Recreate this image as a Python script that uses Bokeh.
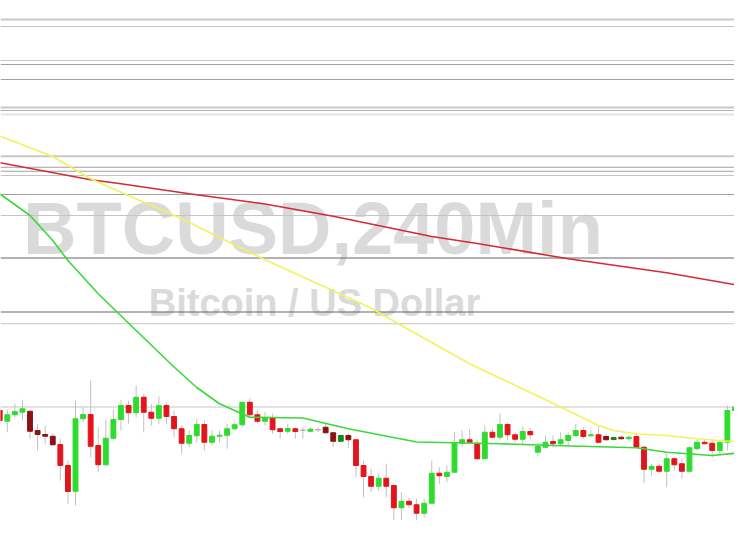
from bokeh.plotting import figure
from bokeh.models import Range1d, Span, Label, ColumnDataSource
from bokeh.embed import file_html
from bokeh.resources import INLINE

# ---------------- data ----------------
opens = [8360, 8317, 8343, 8353, 8357, 8280, 8264, 8257, 8224, 8140,
         8037, 8327, 8344, 8220, 8143, 8249, 8324, 8380, 8351, 8413,
         8353, 8329, 8380, 8336, 8287, 8229, 8259, 8304, 8233, 8257,
         8261, 8287, 8303, 8393, 8343, 8317, 8331, 8287, 8277, 8287,
         8281, 8277, 8283, 8293, 8271, 8237, 8260, 8243, 8140, 8096,
         8057, 8089, 8060, 7971, 7997, 7983, 7949, 7989, 8109, 8096,
         8113, 8229, 8243, 8229, 8167, 8273, 8253, 8304, 8263, 8245,
         8276, 8193, 8213, 8236, 8227, 8240, 8260, 8280, 8259, 8263,
         8256, 8244, 8253, 8247, 8256, 8213, 8125, 8137, 8117, 8167,
         8147, 8117, 8207, 8233, 8229, 8200, 8233, 8360, 8373, 8376]
closes = [8320, 8343, 8356, 8367, 8277, 8264, 8257, 8223, 8140, 8036,
          8327, 8344, 8217, 8143, 8249, 8324, 8380, 8351, 8413, 8353,
          8329, 8380, 8336, 8287, 8229, 8260, 8304, 8233, 8257, 8261,
          8287, 8303, 8393, 8343, 8317, 8331, 8283, 8276, 8288, 8276,
          8281, 8285, 8283, 8271, 8237, 8260, 8243, 8140, 8096, 8057,
          8089, 8057, 7971, 7997, 7983, 7949, 7989, 8109, 8099, 8113,
          8229, 8243, 8233, 8167, 8273, 8253, 8304, 8263, 8245, 8276,
          8263, 8216, 8233, 8227, 8243, 8260, 8280, 8256, 8263, 8233,
          8243, 8252, 8247, 8253, 8213, 8125, 8137, 8117, 8167, 8143,
          8117, 8211, 8233, 8227, 8200, 8233, 8360, 8373, 8379, 8336]
highs = [8380, 8363, 8387, 8403, 8360, 8307, 8300, 8268, 8247, 8160,
         8400, 8373, 8480, 8293, 8323, 8363, 8403, 8400, 8460, 8427,
         8387, 8416, 8393, 8360, 8300, 8280, 8327, 8320, 8280, 8280,
         8307, 8313, 8393, 8408, 8360, 8353, 8347, 8293, 8307, 8293,
         8293, 8293, 8293, 8309, 8273, 8264, 8267, 8243, 8160, 8127,
         8107, 8147, 8060, 8033, 8011, 8007, 8007, 8160, 8133, 8140,
         8273, 8280, 8287, 8240, 8300, 8287, 8347, 8313, 8273, 8296,
         8291, 8233, 8260, 8260, 8273, 8273, 8307, 8293, 8280, 8296,
         8267, 8256, 8260, 8260, 8267, 8220, 8147, 8147, 8187, 8173,
         8167, 8216, 8247, 8247, 8240, 8240, 8380, 8443, 8380, 8384]
lows = [8300, 8273, 8333, 8320, 8247, 8200, 8227, 8220, 8080, 7987,
        7980, 8313, 8173, 8113, 8140, 8240, 8280, 8307, 8333, 8273,
        8300, 8307, 8307, 8253, 8187, 8213, 8233, 8200, 8220, 8233,
        8207, 8283, 8293, 8336, 8307, 8300, 8267, 8247, 8267, 8247,
        8247, 8273, 8273, 8267, 8216, 8233, 8211, 8093, 8013, 8033,
        8037, 8013, 7907, 7856, 7971, 7907, 7933, 7989, 8067, 8073,
        8113, 8213, 8229, 8163, 8167, 8253, 8240, 8240, 8233, 8224,
        8247, 8176, 8208, 8213, 8220, 8220, 8253, 8247, 8253, 8227,
        8240, 8240, 8244, 8240, 8213, 8069, 8100, 8107, 8053, 8120,
        8087, 8117, 8200, 8224, 8173, 8187, 8200, 8353, 8371, 8328]
dark_candles = [4, 5, 6, 7, 43, 44, 45, 46, 80, 81, 82]

ma_red_x = [0, 12, 16, 25, 35, 44, 57, 63, 75, 88, 99]
ma_red = [9351, 9283, 9267, 9227, 9186, 9137, 9056, 9028, 8967, 8911, 8853]

ma_yellow_x = [0, 7, 12, 16, 24, 35, 49, 53, 62, 74, 79, 81, 84, 88, 92, 96, 99]
ma_yellow = [9458, 9376, 9287, 9233, 9127, 8963, 8770, 8700, 8547, 8374, 8300, 8280,
             8266, 8260, 8247, 8237, 8237]

ma_green_x = [0, 4, 7, 9, 13, 18, 23, 26, 29, 31, 33, 40, 46, 55, 66, 73, 84, 88, 94, 97, 99]
ma_green = [9227, 9140, 9040, 8960, 8827, 8680, 8534, 8452, 8387, 8360, 8333, 8330, 8287,
            8234, 8227, 8220, 8211, 8193, 8180, 8189, 8203]

levels = [9924, 9896, 9760, 9744, 9684, 9572, 9560, 9544, 9377, 9333, 9317, 9300,
          9224, 9140, 8970, 8754, 8707, 8374]

title_text = "BTCUSD,240Min"
subtitle_text = "Bitcoin / US Dollar"

# ---------------- styles ----------------
level_styles = ["light2", "light", "light", "mid", "mid", "light2", "mid2", "pale",
                "light2", "mid", "mid", "light", "mid", "light", "dark", "dark", "light", "light"]
style_map = {
    "light2": ("#c8c8c8", 2),
    "light": ("#c4c4c4", 1),
    "pale": ("#e4e4e4", 2),
    "mid": ("#a0a0a0", 1),
    "mid2": ("#b0b0b0", 1),
    "dark": ("#666666", 1.2),
}

GREEN, RED = "#2edc2e", "#e2151c"
DGREEN, DRED = "#128c12", "#8e1111"

idx = list(range(len(opens)))
body_col, tops, bottoms = [], [], []
for i, (o, c) in enumerate(zip(opens, closes)):
    up = c >= o
    if i in dark_candles:
        col = DGREEN if up else DRED
    else:
        col = GREEN if up else RED
    if o == c:
        col = "#aaaaaa"
    body_col.append(col)
    tops.append(max(o, c))
    bottoms.append(min(o, c))

src = ColumnDataSource(dict(x=idx, o=opens, c=closes, h=highs, l=lows,
                            top=tops, bottom=bottoms, col=body_col))

p = figure(width=734, height=520, output_backend="svg", toolbar_location=None,
           x_axis_location=None, y_axis_location=None,
           x_range=Range1d(0.1055, 96.94), y_range=Range1d(7920, 10000),
           min_border=0, background_fill_color="white")
p.xgrid.visible = False
p.ygrid.visible = False
p.outline_line_color = None

p.add_layout(Label(x=41.33, y=9090, text=title_text, text_align="center",
                   text_baseline="middle", text_font="Liberation Sans",
                   text_font_style="bold", text_font_size="74px",
                   text_color="#dadada", level="underlay"))
p.add_layout(Label(x=41.53, y=8790, text=subtitle_text, text_align="center",
                   text_baseline="middle", text_font="Liberation Sans",
                   text_font_style="bold", text_font_size="38px",
                   text_color="#dadada", level="underlay"))

for lv, st in zip(levels, level_styles):
    colr, w = style_map[st]
    p.add_layout(Span(location=lv, dimension="width", line_color=colr,
                      line_width=w, level="underlay"))

p.segment(x0="x", y0="l", x1="x", y1="h", source=src, line_color="#c0c0c0", line_width=1)
p.vbar(x="x", width=0.64, top="top", bottom="bottom", source=src,
       fill_color="col", line_color="col", line_width=1)

p.line(ma_red_x, ma_red, line_color="#d42a33", line_width=1.6)
p.line(ma_yellow_x, ma_yellow, line_color="#f2f25a", line_width=1.6)
p.line(ma_green_x, ma_green, line_color="#3ad83a", line_width=1.6)

open("out.html", "w").write(file_html(p, INLINE))
